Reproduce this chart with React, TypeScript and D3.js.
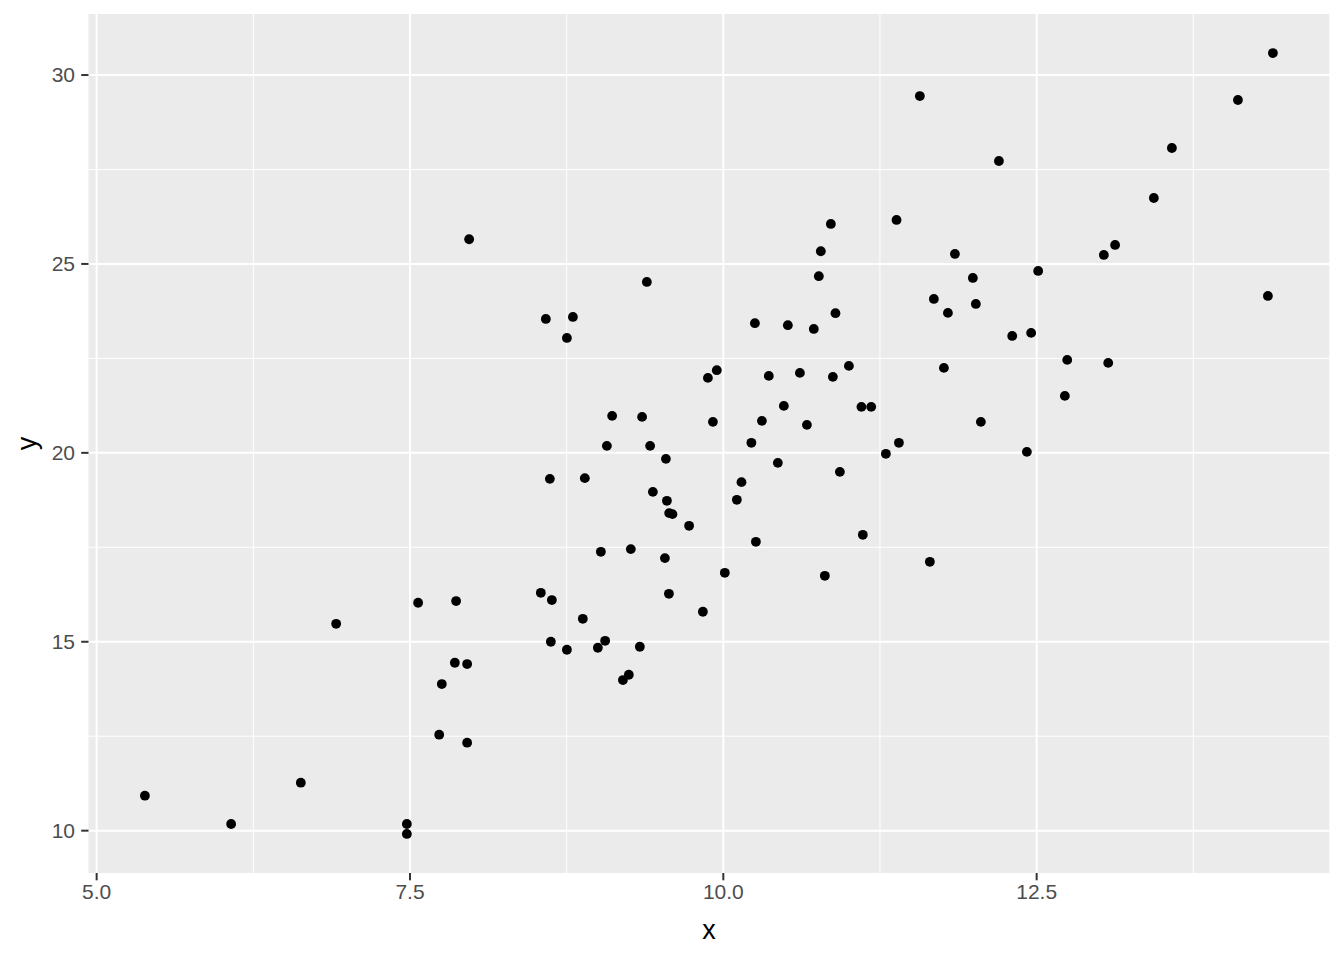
import React from "react";
import * as d3 from "d3";

const xValues: number[] = [
  5.385, 6.073, 6.629, 6.911, 7.475, 7.475, 7.565, 7.868, 7.858, 7.956,
  7.754, 7.733, 7.956, 7.972, 8.584, 8.8, 8.752, 9.39, 9.113, 9.352,
  9.917, 9.071, 9.416, 9.542, 8.616, 8.895, 9.438, 9.55, 9.568, 9.594,
  9.727, 9.023, 9.262, 9.534, 8.544, 8.632, 9.566, 9.837, 8.879, 8.624,
  8.752, 9.057, 8.999, 9.334, 9.246, 9.199, 10.858, 11.382, 10.778, 10.762,
  10.895, 10.252, 10.515, 10.722, 9.948, 9.877, 10.363, 10.611, 10.874, 11.002,
  10.483, 11.102, 11.18, 10.308, 10.667, 10.224, 11.401, 11.297, 10.435, 10.93,
  10.145, 10.108, 10.26, 11.113, 10.012, 10.81, 11.568, 12.199, 11.848, 13.036,
  13.126, 12.512, 11.991, 11.68, 12.015, 11.792, 12.305, 12.456, 12.744, 13.071,
  11.76, 12.725, 12.055, 12.422, 11.648, 14.385, 14.106, 13.579, 13.435, 14.345,
];

const yValues: number[] = [
  10.926, 10.177, 11.27, 15.476, 10.177, 9.913, 16.032, 16.077, 14.444, 14.41,
  13.881, 12.54, 12.328, 25.653, 23.545, 23.598, 23.042, 24.524, 20.979, 20.952,
  20.82, 20.185, 20.185, 19.841, 19.312, 19.331, 18.968, 18.73, 18.405, 18.378,
  18.069, 17.381, 17.452, 17.214, 16.296, 16.103, 16.27, 15.794, 15.608, 15.0,
  14.788, 15.026, 14.841, 14.868, 14.127, 13.987, 26.058, 26.164, 25.336, 24.675,
  23.696, 23.431, 23.378, 23.28, 22.188, 21.984, 22.037, 22.116, 22.011, 22.302,
  21.243, 21.217, 21.217, 20.847, 20.741, 20.265, 20.265, 19.974, 19.735, 19.497,
  19.225, 18.757, 17.646, 17.831, 16.825, 16.746, 29.444, 27.725, 25.265, 25.238,
  25.503, 24.815, 24.63, 24.074, 23.942, 23.704, 23.095, 23.175, 22.46, 22.381,
  22.249, 21.508, 20.82, 20.026, 17.116, 30.582, 29.339, 28.069, 26.746, 24.153,
];

const xTicks: number[] = [5, 7.5, 10, 12.5];
const xTickLabels: string[] = ["5.0", "7.5", "10.0", "12.5"];
const xMinor: number[] = [6.25, 8.75, 11.25, 13.75];
const yTicks: number[] = [10, 15, 20, 25, 30];
const yTickLabels: string[] = ["10", "15", "20", "25", "30"];
const yMinor: number[] = [12.5, 17.5, 22.5, 27.5];

const W = 1344;
const H = 960;
const panel = { left: 88.5, right: 1329.3, top: 14, bottom: 873 };

function expand(ext: [number, number]): [number, number] {
  const r = ext[1] - ext[0];
  return [ext[0] - r * 0.05, ext[1] + r * 0.05];
}

export default function App() {
  const xExt = d3.extent(xValues) as [number, number];
  const yExt = d3.extent(yValues) as [number, number];
  const x = d3.scaleLinear().domain(expand(xExt)).range([panel.left, panel.right]);
  const y = d3.scaleLinear().domain(expand(yExt)).range([panel.bottom, panel.top]);
  const font = "'Liberation Sans', Arial, sans-serif";

  return (
    <svg
      width={W}
      height={H}
      style={{ position: "absolute", left: 0, top: 0, display: "block", background: "#ffffff" }}
    >
      <rect x={0} y={0} width={W} height={H} fill="#ffffff" />
      <rect
        x={panel.left}
        y={panel.top}
        width={panel.right - panel.left}
        height={panel.bottom - panel.top}
        fill="#EBEBEB"
      />
      {xMinor.map((v, i) => (
        <line key={"xm" + i} x1={x(v)} x2={x(v)} y1={panel.top} y2={panel.bottom} stroke="#ffffff" strokeWidth={1} />
      ))}
      {yMinor.map((v, i) => (
        <line key={"ym" + i} x1={panel.left} x2={panel.right} y1={y(v)} y2={y(v)} stroke="#ffffff" strokeWidth={1} />
      ))}
      {xTicks.map((v, i) => (
        <line key={"xg" + i} x1={x(v)} x2={x(v)} y1={panel.top} y2={panel.bottom} stroke="#ffffff" strokeWidth={2} />
      ))}
      {yTicks.map((v, i) => (
        <line key={"yg" + i} x1={panel.left} x2={panel.right} y1={y(v)} y2={y(v)} stroke="#ffffff" strokeWidth={2} />
      ))}
      {xValues.map((v, i) => (
        <circle key={"p" + i} cx={x(v)} cy={y(yValues[i])} r={4.9} fill="#000000" />
      ))}
      {xTicks.map((v, i) => (
        <g key={"xt" + i}>
          <line x1={x(v)} x2={x(v)} y1={panel.bottom} y2={panel.bottom + 7.3} stroke="#333333" strokeWidth={2} />
          <text x={x(v)} y={899} textAnchor="middle" fontFamily={font} fontSize={21} fill="#4D4D4D">
            {xTickLabels[i]}
          </text>
        </g>
      ))}
      {yTicks.map((v, i) => (
        <g key={"yt" + i}>
          <line x1={panel.left - 7.3} x2={panel.left} y1={y(v)} y2={y(v)} stroke="#333333" strokeWidth={2} />
          <text x={75} y={y(v)} dy="0.35em" textAnchor="end" fontFamily={font} fontSize={21} fill="#4D4D4D">
            {yTickLabels[i]}
          </text>
        </g>
      ))}
      <text
        x={(panel.left + panel.right) / 2}
        y={939}
        textAnchor="middle"
        fontFamily={font}
        fontSize={27}
        fill="#000000"
      >
        x
      </text>
      <text
        transform={`translate(36, ${(panel.top + panel.bottom) / 2}) rotate(-90)`}
        textAnchor="middle"
        fontFamily={font}
        fontSize={27}
        fill="#000000"
      >
        y
      </text>
    </svg>
  );
}
